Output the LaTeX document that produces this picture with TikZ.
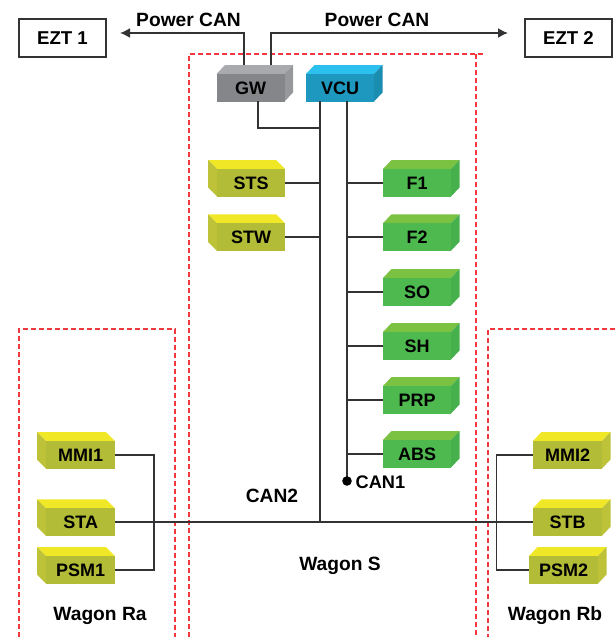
\documentclass[tikz,border=0pt]{standalone}
\usetikzlibrary{arrows.meta}
\usepackage{fontspec}
\setmainfont{Liberation Sans}
\definecolor{ylF}{HTML}{B3BC36}
\definecolor{ylT}{HTML}{F0E827}
\definecolor{ylS}{HTML}{BDC238}
\definecolor{grF}{HTML}{4DB94F}
\definecolor{grT}{HTML}{7CC242}
\definecolor{grS}{HTML}{46B04D}
\definecolor{gyF}{HTML}{85868A}
\definecolor{gyT}{HTML}{A9AAAE}
\definecolor{gyS}{HTML}{97989C}
\definecolor{blF}{HTML}{1E98BE}
\definecolor{blT}{HTML}{2CC0EE}
\definecolor{blS}{HTML}{1B8DB0}
\definecolor{dashred}{HTML}{F0383F}
\definecolor{wire}{HTML}{333335}
\tikzset{
 wirel/.style={draw=wire,line width=1.6pt},
 zone/.style={draw=dashred,line width=1.2pt,dash pattern=on 5pt off 3pt},
 lbl/.style={font=\fontsize{19.2}{22}\selectfont\bfseries,inner sep=0pt,text=black,anchor=base},
 ezt/.style={draw=wire,line width=1.6pt,fill=white,font=\fontsize{18.6}{22}\selectfont\bfseries,inner sep=0pt},
 front/.style={font=\fontsize{18}{20}\selectfont\bfseries,inner sep=0pt,text=black,minimum width=#1pt,minimum height=27.5pt},
 tipped/.style={-{Latex[length=10pt,width=10pt]}},
}
% right-facing block: name, front left x, front top y, width, label, colour prefix
\newcommand\rblock[6]{%
 \fill[#6T] (#2,#3) -- ++(8.5,-9) -- ++(#4,0) -- ++(-8.5,9) -- cycle;
 \fill[#6S] (#2+#4,#3) -- ++(8.5,-9) -- ++(0,27.5) -- ++(-8.5,9) -- cycle;
 \node[front=#4,fill=#6F,anchor=north west] (#1) at (#2,#3) {#5};
}
% left-facing block
\newcommand\lblock[6]{%
 \fill[#6T] (#2,#3) -- ++(-9,-9) -- ++(#4,0) -- ++(9,9) -- cycle;
 \fill[#6S] (#2,#3) -- ++(-9,-9) -- ++(0,27.5) -- ++(9,9) -- cycle;
 \node[front=#4,fill=#6F,anchor=north west] (#1) at (#2,#3) {#5};
}
\begin{document}
\begin{tikzpicture}[x=1pt,y=-1pt]
\useasboundingbox (0,0) rectangle (615,637);
% zones
\draw[zone] (189,637) -- (189,54) -- (484,54);
\draw[zone] (476,54) -- (476,637);
\draw[zone] (19,637) -- (19,329) -- (175,329) -- (175,637);
\draw[zone] (615,329) -- (488,329) -- (488,637);
% blocks
\rblock{gw}{216.5}{74}{68}{GW}{gy}
\rblock{vcu}{306}{74}{68}{VCU}{bl}
\lblock{sts}{217}{169}{68}{STS}{yl}
\lblock{stw}{217}{223.25}{68}{STW}{yl}
\rblock{fa}{383}{169}{68}{F1}{gr}
\rblock{fb}{383}{223.25}{68}{F2}{gr}
\rblock{so}{383}{278}{68}{SO}{gr}
\rblock{sh}{383}{332}{68}{SH}{gr}
\rblock{prp}{383}{386}{68}{PRP}{gr}
\rblock{abs}{383}{440}{68}{ABS}{gr}
\lblock{mmia}{46}{441}{69}{MMI1}{yl}
\lblock{sta}{46}{508.25}{69}{STA}{yl}
\lblock{psma}{46}{556}{69}{PSM1}{yl}
\rblock{mmib}{533}{441}{69}{MMI2}{yl}
\rblock{stb}{533}{508.25}{69}{STB}{yl}
\rblock{psmb}{529}{556}{69}{PSM2}{yl}
% EZT
\node[ezt,minimum width=87pt,minimum height=38pt] (ezta) at (62.5,38) {EZT 1};
\node[ezt,minimum width=87pt,minimum height=38pt] (eztb) at (568.5,38) {EZT 2};
% coordinates
\coordinate (busA) at (320,128);
\coordinate (busB) at (347,101);
\coordinate (busEndA) at (320,522);
\coordinate (dot) at (347,481);
\coordinate (upA) at (244,65);
\coordinate (upB) at (271,65);
\coordinate (tipA) at (120,33);
\coordinate (tipB) at (508,33);
% wires
\draw[wirel,tipped] (upA) -- (244,33) -- (tipA);
\draw[wirel,tipped] (upB) -- (271,33) -- (tipB);
\draw[wirel] (258,101) -- (258,128) -- (busA);
\draw[wirel] (320,101) -- (busEndA);
\draw[wirel] (busB) -- (dot);
\fill[black] (dot) circle (4.8pt);
\draw[wirel] (sts.east) -- (sts.east -| busA);
\draw[wirel] (stw.east) -- (stw.east -| busA);
\foreach \n in {fa,fb,so,sh,prp,abs} \draw[wirel] (\n.west) -- (\n.west -| busB);
\draw[wirel] (sta.east) -- (stb.west);
\draw[wirel] (mmia.east) -| (154,520) |- (psma.east);
\draw[wirel] (mmib.west) -| (496.5,520) |- (psmb.west);
% labels
\node[lbl] (pa) at (188.5,26.7) {Power CAN};
\node[lbl] (pb) at (377,26.7) {Power CAN};
\node[lbl,anchor=base west,font=\fontsize{18.2}{22}\selectfont\bfseries] (canA) at (355.5,488) {CAN1};
\node[lbl] (canB) at (272,502) {CAN2};
\node[lbl] (ws) at (340,570) {Wagon S};
\node[lbl] (wra) at (100,620) {Wagon Ra};
\node[lbl] (wrb) at (555,620) {Wagon Rb};
\end{tikzpicture}
\end{document}
